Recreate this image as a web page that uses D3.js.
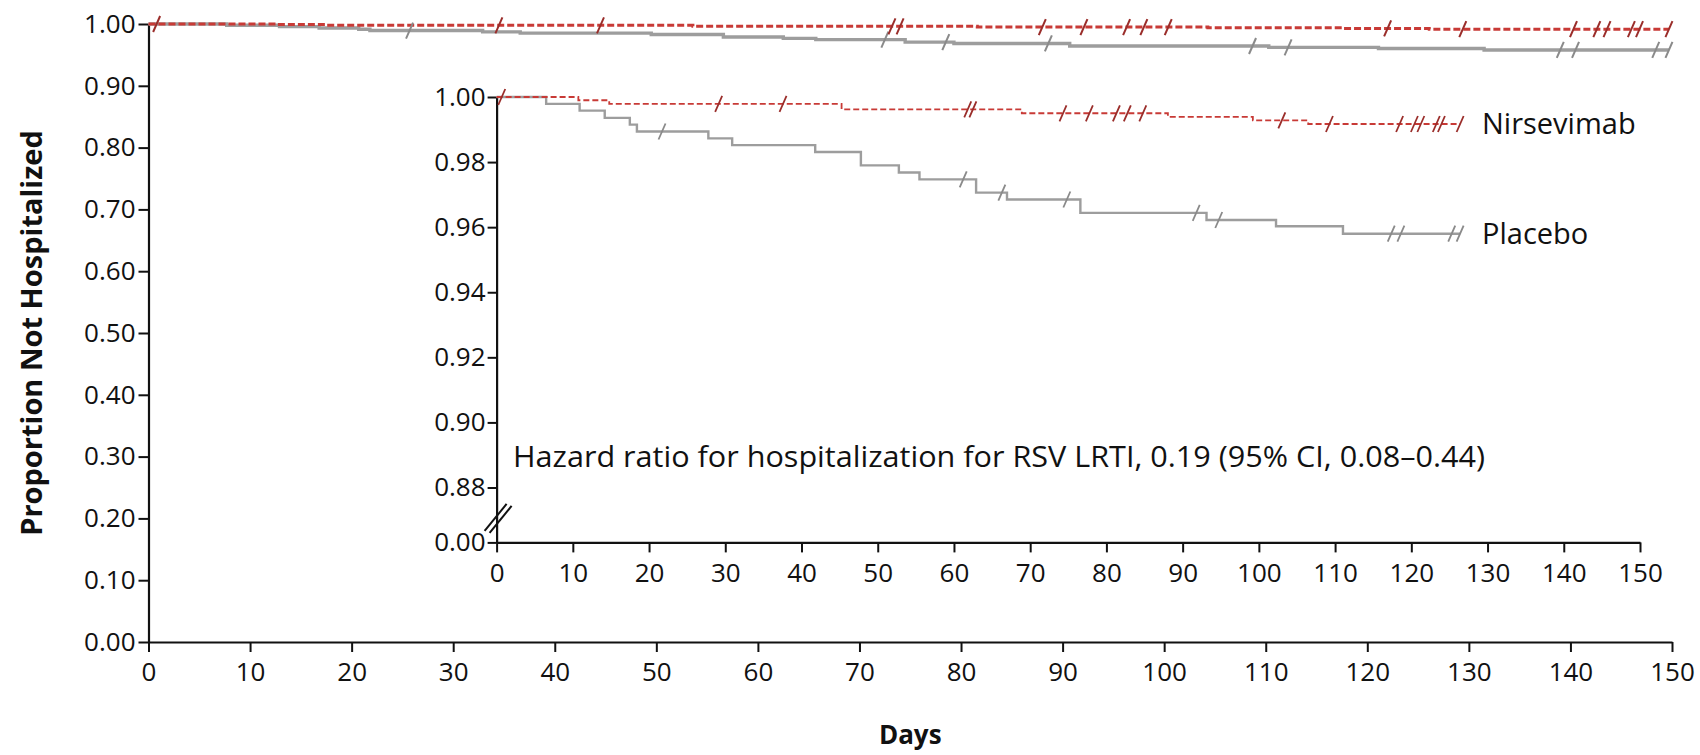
<!DOCTYPE html>
<html>
<head>
<meta charset="utf-8">
<script src="https://cdn.jsdelivr.net/npm/d3@7/dist/d3.min.js"></script>
<style>
  html, body { margin: 0; padding: 0; background: #fff; }
  svg { display: block; font-family: "Open Sans", sans-serif; }
</style>
</head>
<body>
<div id="chart"></div>
<script>
// Kaplan-Meier data (days / proportion not hospitalized)
const dayTicks = [0, 10, 20, 30, 40, 50, 60, 70, 80, 90, 100, 110, 120, 130, 140, 150];
const mainYTicks = [0, 0.1, 0.2, 0.3, 0.4, 0.5, 0.6, 0.7, 0.8, 0.9, 1.0];
const insetYTicks = [0, 0.88, 0.90, 0.92, 0.94, 0.96, 0.98, 1.00];

const placeboTimes = [0, 7.7, 12.9, 16.8, 20.7, 21.8, 32.9, 36.6, 49.5, 56.6, 62.5, 65.7, 74.5, 79.3, 90.7, 110.3, 121.1, 131.5];
const placeboSurv = [1, 0.9979, 0.9958, 0.9936, 0.9915, 0.9894, 0.9873, 0.9852, 0.9831, 0.9790, 0.9768, 0.9747, 0.9706, 0.9685, 0.9644, 0.9622, 0.9603, 0.9580];
const placeboCensored = [25.7, 72.5, 78.5, 88.6, 108.7, 112.2, 139.0, 140.5, 148.4, 149.7];

const nirsTimes = [0, 12.7, 17.5, 53.6, 81.6, 104.3, 117.5, 126.1];
const nirsSurv = [1, 0.9990, 0.9979, 0.9962, 0.9950, 0.9939, 0.9928, 0.9917];
const nirsCensored = [0.8, 34.5, 44.5, 73.2, 74.0, 88.0, 92.1, 96.3, 98.0, 100.4, 122.0, 129.4, 140.3, 142.6, 143.6, 146.0, 146.8, 149.7];

const followUpEnd = 149.7;

const RED = "#c83a36", RED_DARK = "#9a2d2a", GRAY = "#9d9d9d", GRAY_DARK = "#8a8a8a";

const width = 1700, height = 755;

const svg = d3.select("#chart").append("svg")
    .attr("width", width)
    .attr("height", height);

// build step series
function series(times, surv) {
    const pts = times.map((t, i) => ({ t: t, s: surv[i] }));
    pts.push({ t: followUpEnd, s: surv[surv.length - 1] });
    return pts;
}
function survAt(times, surv, t) {
    const i = d3.bisectRight(times, t) - 1;
    return surv[Math.max(i, 0)];
}
const placebo = series(placeboTimes, placeboSurv);
const nirs = series(nirsTimes, nirsSurv);

function styleAxis(g, size) {
    g.attr("font-family", null).attr("font-size", null);
    g.select(".domain").attr("stroke", "#111").attr("stroke-width", 2.2);
    g.selectAll(".tick line").attr("stroke", "#111").attr("stroke-width", 2);
    g.selectAll(".tick text").attr("fill", "#111").style("font-size", size + "px");
}

// ---------- main chart ----------
const x = d3.scaleLinear().domain([0, 150]).range([148.5, 1672]);
const y = d3.scaleLinear().domain([0, 1]).range([642, 24]);

svg.append("g")
    .attr("transform", `translate(0,${y(0)})`)
    .call(d3.axisBottom(x).tickValues(dayTicks).tickSize(10).tickPadding(11).tickSizeOuter(0))
    .call(g => styleAxis(g, 26));

svg.append("g")
    .attr("transform", `translate(${x(0)},0)`)
    .call(d3.axisLeft(y).tickValues(mainYTicks).tickFormat(d3.format(".2f")).tickSize(10).tickPadding(3).tickSizeOuter(0))
    .call(g => styleAxis(g, 26));

const mainLine = d3.line().x(d => x(d.t)).y(d => y(d.s)).curve(d3.curveStepAfter);

svg.append("path").datum(placebo)
    .attr("d", mainLine).attr("fill", "none")
    .attr("stroke", GRAY).attr("stroke-width", 3.4);
svg.append("path").datum(nirs)
    .attr("d", mainLine).attr("fill", "none")
    .attr("stroke", RED).attr("stroke-width", 3).attr("stroke-dasharray", "7,3");

function censorMarks(xs, ys, times, surv, censored, color, hw, hh, sw) {
    svg.append("g").selectAll("line")
        .data(censored)
        .join("line")
        .attr("x1", d => xs(d) - hw).attr("y1", d => ys(survAt(times, surv, d)) + hh)
        .attr("x2", d => xs(d) + hw).attr("y2", d => ys(survAt(times, surv, d)) - hh)
        .attr("stroke", color).attr("stroke-width", sw);
}
censorMarks(x, y, placeboTimes, placeboSurv, placeboCensored, GRAY_DARK, 3.5, 8, 2);
censorMarks(x, y, nirsTimes, nirsSurv, nirsCensored, RED_DARK, 3.5, 8, 2);

svg.append("text")
    .attr("transform", `translate(32,${(y(0) + y(1)) / 2}) rotate(-90)`)
    .attr("text-anchor", "middle").attr("dy", "0.35em")
    .style("font-size", "29px").style("font-weight", "bold").attr("fill", "#111")
    .text("Proportion Not Hospitalized");

svg.append("text")
    .attr("x", (x(0) + x(150)) / 2).attr("y", 735)
    .attr("text-anchor", "middle").attr("dy", "0.35em")
    .style("font-size", "26px").style("font-weight", "bold").attr("fill", "#111")
    .text("Days");

// ---------- inset ----------
const xi = d3.scaleLinear().domain([0, 150]).range([496.6, 1640]);
// the inset curves are drawn compressed: full follow-up ends at 126.4 on the inset axis
const xiData = d3.scaleLinear().domain([0, followUpEnd]).range([xi(0), xi(126.4)]);
const yi = d3.scaleLinear().domain([0, 0.88, 1.0]).range([542.4, 487.5, 97]);

svg.append("g")
    .attr("transform", `translate(0,${yi(0)})`)
    .call(d3.axisBottom(xi).tickValues(dayTicks).tickSize(10).tickPadding(11).tickSizeOuter(0))
    .call(g => styleAxis(g, 26));

svg.append("g")
    .attr("transform", `translate(${xi(0)},0)`)
    .call(d3.axisLeft(yi).tickValues(insetYTicks).tickFormat(d3.format(".2f")).tickSize(9).tickPadding(2).tickSizeOuter(0))
    .call(g => styleAxis(g, 26));

// axis break
const bx = xi(0), by = (yi(0) + yi(0.88)) / 2 + 3;
svg.append("g").selectAll("line")
    .data([0, 5])
    .join("line")
    .attr("x1", d => bx - 12 + d).attr("y1", d => by + 13 + d * 0.4)
    .attr("x2", d => bx + 10 + d).attr("y2", d => by - 14 + d * 0.4)
    .attr("stroke", "#111").attr("stroke-width", 2);

const insetLine = d3.line().x(d => xiData(d.t)).y(d => yi(d.s)).curve(d3.curveStepAfter);

svg.append("path").datum(placebo)
    .attr("d", insetLine).attr("fill", "none")
    .attr("stroke", GRAY).attr("stroke-width", 2.4);
svg.append("path").datum(nirs)
    .attr("d", insetLine).attr("fill", "none")
    .attr("stroke", RED).attr("stroke-width", 1.8).attr("stroke-dasharray", "6,3");

censorMarks(xiData, yi, placeboTimes, placeboSurv, placeboCensored, GRAY_DARK, 3.5, 8, 1.8);
censorMarks(xiData, yi, nirsTimes, nirsSurv, nirsCensored, RED_DARK, 3.5, 8, 1.8);

svg.append("text")
    .attr("x", 1482).attr("y", yi(nirsSurv[nirsSurv.length - 1]))
    .attr("dy", "0.35em").style("font-size", "29px").attr("fill", "#111")
    .text("Nirsevimab");
svg.append("text")
    .attr("x", 1482).attr("y", yi(placeboSurv[placeboSurv.length - 1]))
    .attr("dy", "0.35em").style("font-size", "29px").attr("fill", "#111")
    .text("Placebo");

svg.append("text")
    .attr("x", 513).attr("y", 457)
    .attr("dy", "0.35em").style("font-size", "29px").attr("fill", "#111")
    .attr("textLength", 972).attr("lengthAdjust", "spacingAndGlyphs")
    .text("Hazard ratio for hospitalization for RSV LRTI, 0.19 (95% CI, 0.08\u20130.44)");
</script>
</body>
</html>
